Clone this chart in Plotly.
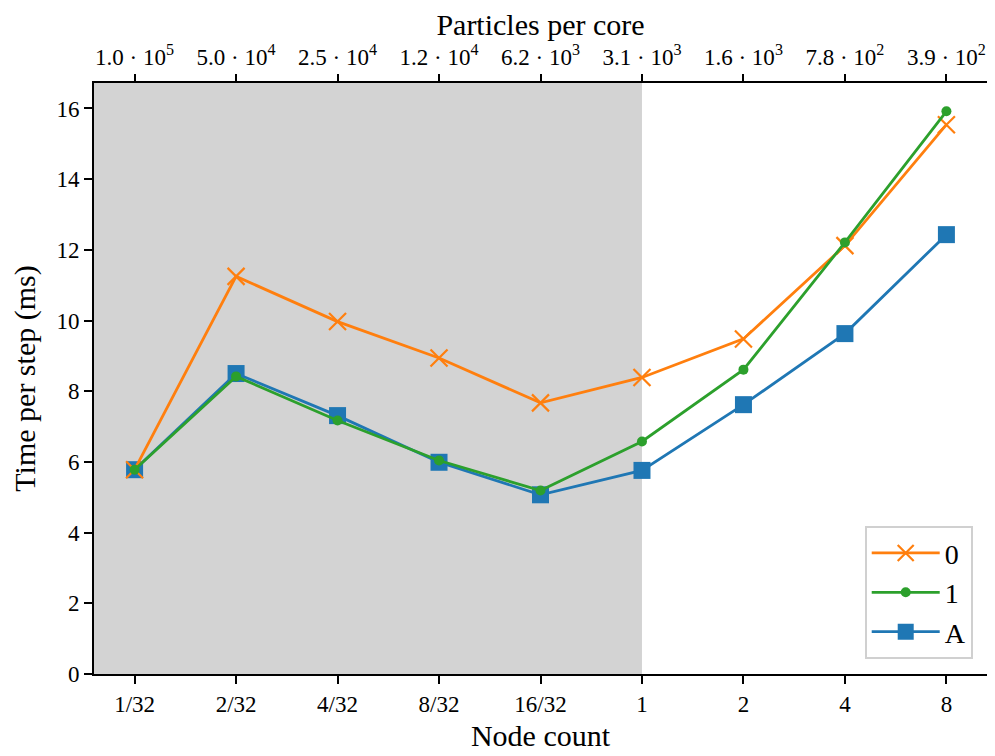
import plotly.graph_objects as go

node_counts = ["1/32", "2/32", "4/32", "8/32", "16/32", "1", "2", "4", "8"]
particles_per_core = ["1.0 · 10<sup>5</sup>", "5.0 · 10<sup>4</sup>", "2.5 · 10<sup>4</sup>",
                      "1.2 · 10<sup>4</sup>", "6.2 · 10<sup>3</sup>", "3.1 · 10<sup>3</sup>",
                      "1.6 · 10<sup>3</sup>", "7.8 · 10<sup>2</sup>", "3.9 · 10<sup>2</sup>"]
series_0 = [5.78, 11.25, 9.97, 8.94, 7.67, 8.39, 9.48, 12.12, 15.54]
series_1 = [5.78, 8.42, 7.17, 6.04, 5.19, 6.58, 8.61, 12.21, 15.92]
series_A = [5.78, 8.50, 7.31, 5.99, 5.07, 5.76, 7.62, 9.63, 12.43]
shade_until = "1"

FONT = "Liberation Serif"
fig = go.Figure()

fig.add_trace(go.Scatter(x=node_counts, y=series_A, name="A", mode="lines+markers",
                         line=dict(color="#1f77b4", width=2.8),
                         marker=dict(symbol="square", size=17, color="#1f77b4"),
                         legendrank=3))
fig.add_trace(go.Scatter(x=node_counts, y=series_0, name="0", mode="lines+markers",
                         line=dict(color="#ff7f0e", width=2.8),
                         marker=dict(symbol="x-thin-open", size=17, color="#ff7f0e",
                                     line=dict(color="#ff7f0e", width=2.2)),
                         legendrank=1))
fig.add_trace(go.Scatter(x=node_counts, y=series_1, name="1", mode="lines+markers",
                         line=dict(color="#2ca02c", width=2.8),
                         marker=dict(symbol="circle", size=10, color="#2ca02c"),
                         legendrank=2))
# invisible trace to carry the top axis
fig.add_trace(go.Scatter(x=particles_per_core, y=series_0, xaxis="x2", mode="markers",
                         marker=dict(opacity=0), showlegend=False, hoverinfo="skip"))

fig.add_shape(type="rect", xref="x", yref="paper", x0=-0.4, x1=node_counts.index(shade_until),
              y0=0, y1=1, fillcolor="#d3d3d3", line=dict(width=0), layer="below")

axis_common = dict(showgrid=False, zeroline=False, ticks="outside", ticklen=8,
                   tickwidth=1.5, tickcolor="black", linecolor="black", linewidth=1.8,
                   automargin=False,
                   tickfont=dict(family=FONT, size=23, color="black"))
title_font = dict(family=FONT, size=30, color="black")

fig.update_layout(
    width=987, height=748,
    margin=dict(l=86, r=8, t=75, b=82),
    plot_bgcolor="white", paper_bgcolor="white",
    font=dict(family=FONT, color="black"),
    xaxis=dict(type="category", range=[-0.4, 8.4], showline=True, mirror=True,
               title=dict(text="Node count", font=title_font, standoff=9),
               **axis_common),
    xaxis2=dict(type="category", range=[-0.4, 8.4], overlaying="x", side="top",
                anchor="y", showline=False,
                title=dict(text="Particles per core", font=title_font, standoff=8),
                **axis_common),
    yaxis=dict(range=[0, 16.72], showline=True, mirror=True, tickvals=list(range(0, 17, 2)),
               title=dict(text="Time per step (ms)", font=title_font, standoff=15),
               **axis_common),
    legend=dict(x=0.984, y=0.025, xanchor="right", yanchor="bottom",
                bgcolor="rgba(255,255,255,0.8)", bordercolor="#d0d0d0", borderwidth=2,
                font=dict(family=FONT, size=28, color="black"),
                itemwidth=68, entrywidth=78, tracegroupgap=4),
    showlegend=True,
)

fig.write_html("out.html")
